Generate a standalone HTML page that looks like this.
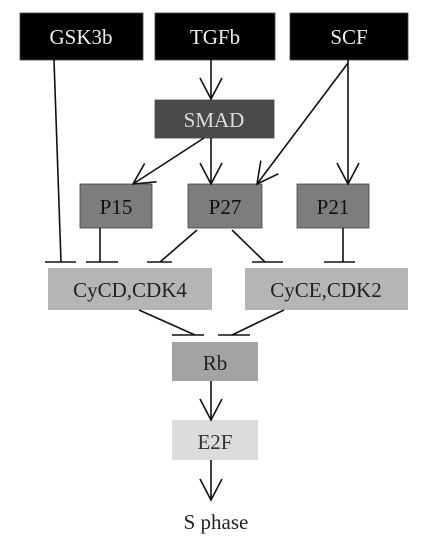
<!DOCTYPE html>
<html><head><style>body{margin:0;background:#fff}svg text{font-family:"Liberation Serif",serif;font-size:21px}</style></head><body>
<svg width="434" height="546" xmlns="http://www.w3.org/2000/svg">
<defs><marker id="a" markerWidth="24" markerHeight="24" refX="22" refY="12" orient="auto" markerUnits="userSpaceOnUse"><path d="M1,1 L22,12 L1,23" fill="none" stroke="#111" stroke-width="1.6"/></marker></defs>
<g stroke="#444" stroke-width="0.8">
<rect x="20" y="13" width="123" height="47" fill="#000"/>
<rect x="155" y="13" width="120" height="47" fill="#000"/>
<rect x="290" y="13" width="118" height="47" fill="#000"/>
<rect x="155" y="100" width="119" height="38" fill="#4a4a4a"/>
<rect x="80" y="184" width="72" height="44" fill="#7d7d7d"/>
<rect x="188" y="184" width="74" height="44" fill="#7d7d7d"/>
<rect x="297" y="184" width="72" height="44" fill="#7d7d7d"/>
<rect x="48" y="268" width="164" height="42" fill="#b5b5b5" stroke="none"/>
<rect x="245" y="268" width="163" height="42" fill="#b5b5b5" stroke="none"/>
<rect x="172" y="342" width="86" height="39" fill="#a3a3a3" stroke="none"/>
<rect x="172" y="420" width="86" height="40" fill="#dcdcdc" stroke="none"/>
</g>
<g stroke="#111" stroke-width="1.6" fill="none">
<line x1="54" y1="60" x2="61" y2="262"/><line x1="45" y1="262" x2="76" y2="262"/>
<line x1="100" y1="228" x2="100" y2="262"/><line x1="86" y1="262" x2="118" y2="262"/>
<line x1="197" y1="230" x2="160" y2="262"/><line x1="147" y1="262" x2="172" y2="262"/>
<line x1="232" y1="230" x2="265" y2="262"/><line x1="252" y1="262" x2="283" y2="262"/>
<line x1="343" y1="228" x2="343" y2="262"/><line x1="324" y1="262" x2="355" y2="262"/>
<line x1="139" y1="310" x2="195" y2="335"/><line x1="172" y1="335" x2="204" y2="335"/>
<line x1="284" y1="310" x2="232" y2="335"/><line x1="218" y1="335" x2="250" y2="335"/>
<line x1="211" y1="60" x2="211" y2="99" marker-end="url(#a)"/>
<line x1="204" y1="138" x2="133" y2="184" marker-end="url(#a)"/>
<line x1="211" y1="138" x2="211" y2="184" marker-end="url(#a)"/>
<line x1="348" y1="63" x2="257" y2="184" marker-end="url(#a)"/>
<line x1="348" y1="60" x2="348" y2="184" marker-end="url(#a)"/>
<line x1="211" y1="381" x2="211" y2="420" marker-end="url(#a)"/>
<line x1="211" y1="460" x2="211" y2="500" marker-end="url(#a)"/>
</g>
<g text-anchor="middle">
<text x="81" y="44" fill="#eee">GSK3b</text>
<text x="215" y="44" fill="#eee">TGFb</text>
<text x="349" y="44" fill="#eee">SCF</text>
<text x="214" y="127" fill="#ddd">SMAD</text>
<text x="116" y="214" fill="#111">P15</text>
<text x="225" y="214" fill="#111">P27</text>
<text x="333" y="214" fill="#111">P21</text>
<text x="130" y="297" fill="#222">CyCD,CDK4</text>
<text x="326" y="297" fill="#222">CyCE,CDK2</text>
<text x="215" y="370" fill="#222">Rb</text>
<text x="215" y="449" fill="#333">E2F</text>
<text x="216" y="529" fill="#222">S phase</text>
</g>
</svg>
</body></html>
